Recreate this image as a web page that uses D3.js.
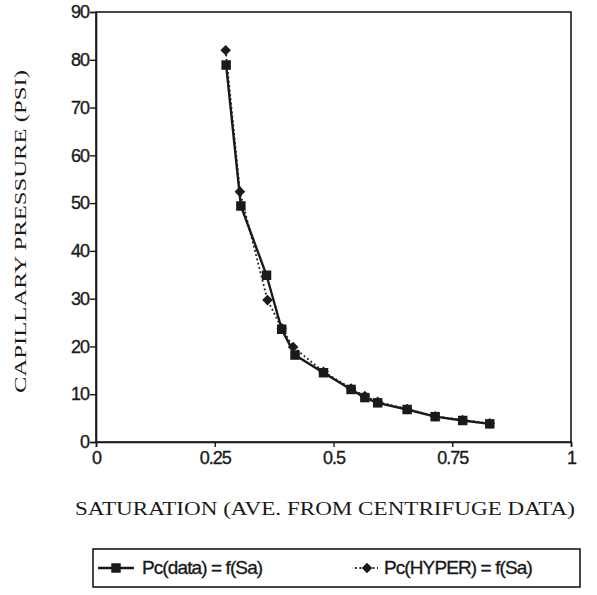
<!DOCTYPE html>
<html><head><meta charset="utf-8">
<script src="https://cdn.jsdelivr.net/npm/d3@7"></script>
<style>body{margin:0;background:#fff;} svg{display:block;}</style>
</head><body>
<svg id="c" width="597" height="595"></svg>
<script>
const dataSat = [0.274, 0.305, 0.359, 0.391, 0.419, 0.479, 0.537, 0.566, 0.593, 0.655, 0.714, 0.772, 0.829];
const dataPc  = [78.9, 49.4, 34.9, 23.6, 18.2, 14.5, 11.0, 9.3, 8.2, 6.8, 5.3, 4.5, 3.8];
const hyperSat = [0.273, 0.303, 0.361, 0.391, 0.415, 0.479, 0.537, 0.566, 0.593, 0.655, 0.714, 0.772, 0.829];
const hyperPc  = [82.0, 52.4, 29.7, 23.8, 19.9, 14.7, 11.2, 9.6, 8.4, 6.9, 5.4, 4.6, 3.9];
const xTicks = [0, 0.25, 0.5, 0.75, 1];
const xTickLabels = ["0", "0.25", "0.5", "0.75", "1"];
const yTicks = [0, 10, 20, 30, 40, 50, 60, 70, 80, 90];
const seriesNames = ["Pc(data) = f(Sa)", "Pc(HYPER) = f(Sa)"];
const xTitle = "SATURATION (AVE. FROM CENTRIFUGE  DATA)";
const yTitle = "CAPILLARY PRESSURE  (PSI)";

const svg = d3.select("#c");
const L = 96, R = 571, T = 12, B = 442;
const x = d3.scaleLinear().domain([0, 1]).range([L, R]);
const y = d3.scaleLinear().domain([0, 90]).range([B, T]);
const ink = "#1a1a1a";

// frame
svg.append("rect").attr("x", L).attr("y", T).attr("width", R - L).attr("height", B - T)
  .attr("fill", "none").attr("stroke", ink).attr("stroke-width", 1.6);

const tickFont = "'Liberation Sans', Arial, sans-serif";
const xAxis = svg.append("g").attr("transform", `translate(0,${B})`)
  .call(d3.axisBottom(x).tickValues(xTicks).tickFormat((d, i) => xTickLabels[i]).tickSize(5).tickPadding(4));
const yAxis = svg.append("g").attr("transform", `translate(${L},0)`)
  .call(d3.axisLeft(y).tickValues(yTicks).tickFormat(d3.format("d")).tickSize(6).tickPadding(1));
[xAxis, yAxis].forEach(g => {
  g.select(".domain").attr("stroke", ink).attr("stroke-width", 1.6);
  g.selectAll(".tick line").attr("stroke", ink).attr("stroke-width", 1.4);
  g.selectAll(".tick text").attr("fill", ink).attr("stroke", ink).attr("stroke-width", 0.35)
    .style("font-family", tickFont).style("font-size", "18px").style("letter-spacing", "-1px");
});

// lines
const ptsData = dataSat.map((s, i) => [s, dataPc[i]]);
const ptsHyper = hyperSat.map((s, i) => [s, hyperPc[i]]);
const line = d3.line().x(d => x(d[0])).y(d => y(d[1]));
svg.append("path").datum(ptsHyper).attr("d", line).attr("fill", "none")
  .attr("stroke", ink).attr("stroke-width", 1.8).attr("stroke-dasharray", "1.8,2.6");
svg.append("path").datum(ptsData).attr("d", line).attr("fill", "none")
  .attr("stroke", ink).attr("stroke-width", 2.4);

const sq = d3.symbol().type(d3.symbolSquare).size(90);
const dm = d3.symbol().type(d3.symbolSquare).size(56);
svg.selectAll(".h").data(ptsHyper).join("path").attr("class", "h")
  .attr("d", dm).attr("transform", d => `translate(${x(d[0])},${y(d[1])}) rotate(45)`).attr("fill", ink);
svg.selectAll(".s").data(ptsData).join("path").attr("class", "s")
  .attr("d", sq).attr("transform", d => `translate(${x(d[0])},${y(d[1])})`).attr("fill", ink);

// titles
const serif = "'Liberation Serif', 'Times New Roman', serif";
svg.append("text").attr("x", 75).attr("y", 515).attr("textLength", 500).attr("lengthAdjust", "spacingAndGlyphs")
  .style("font-family", serif).style("font-size", "19px").attr("fill", ink).text(xTitle);
svg.append("text").attr("transform", "translate(26,393) rotate(-90)").attr("textLength", 323).attr("lengthAdjust", "spacingAndGlyphs")
  .style("font-family", serif).style("font-size", "17px").attr("fill", ink).text(yTitle);

// legend
const lg = svg.append("g");
lg.append("rect").attr("x", 93).attr("y", 549).attr("width", 487).attr("height", 38)
  .attr("fill", "none").attr("stroke", ink).attr("stroke-width", 1.6);
const ly = 568;
lg.append("line").attr("x1", 98).attr("x2", 134).attr("y1", ly).attr("y2", ly).attr("stroke", ink).attr("stroke-width", 2.4);
lg.append("path").attr("d", sq).attr("transform", `translate(116,${ly})`).attr("fill", ink);
lg.append("text").attr("x", 142).attr("y", ly + 6).attr("stroke", ink).attr("stroke-width", 0.35)
  .style("font-family", tickFont).style("font-size", "19px")
  .style("letter-spacing", "-0.9px").attr("fill", ink).text(seriesNames[0]);
lg.append("line").attr("x1", 355).attr("x2", 378).attr("y1", ly).attr("y2", ly).attr("stroke", ink).attr("stroke-width", 1.8).attr("stroke-dasharray", "1.8,2.6");
lg.append("path").attr("d", dm).attr("transform", `translate(367,${ly}) rotate(45)`).attr("fill", ink);
lg.append("text").attr("x", 384).attr("y", ly + 6).attr("stroke", ink).attr("stroke-width", 0.35)
  .style("font-family", tickFont).style("font-size", "19px")
  .style("letter-spacing", "-0.9px").attr("fill", ink).text(seriesNames[1]);
</script>
</body></html>
